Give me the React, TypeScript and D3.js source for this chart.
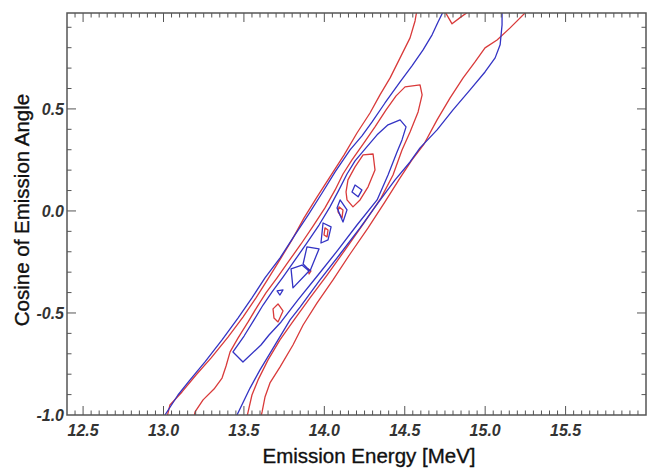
import React from "react";
import * as d3 from "d3";

type Pt = [number, number];

// Axis setup
const xDomain: [number, number] = [12.4, 16.0];
const yDomain: [number, number] = [-1.0, 0.97];
const xTickLabels = [12.5, 13.0, 13.5, 14.0, 14.5, 15.0, 15.5];
const yTickLabels = [-1.0, -0.5, 0.0, 0.5];
const xTitle = "Emission Energy [MeV]";
const yTitle = "Cosine of Emission Angle";

// ---- Blue contours (energy MeV, cosine) ----
const blueOuterLeft: Pt[] = [
  [13.009, -1.0], [13.09, -0.902], [13.165, -0.828], [13.258, -0.74], [13.364, -0.632],
  [13.463, -0.525], [13.55, -0.426], [13.631, -0.328], [13.725, -0.23], [13.805, -0.132],
  [13.899, -0.02], [13.986, 0.088], [14.067, 0.191], [14.16, 0.299], [14.234, 0.368],
  [14.297, 0.436], [14.377, 0.529], [14.471, 0.632], [14.545, 0.711], [14.614, 0.789],
  [14.67, 0.863], [14.707, 0.926], [14.744, 0.985],
];
const blueOuterRight: Pt[] = [
  [13.451, -1.01], [13.538, -0.868], [13.6, -0.779], [13.675, -0.681], [13.787, -0.534],
  [13.849, -0.471], [13.973, -0.338], [14.098, -0.211], [14.222, -0.083], [14.334, 0.039],
  [14.44, 0.152], [14.533, 0.24], [14.595, 0.309], [14.701, 0.397], [14.8, 0.495],
  [14.906, 0.593], [14.999, 0.681], [15.062, 0.75], [15.093, 0.814], [15.105, 0.912],
  [15.105, 0.985],
];
const blueInnerLoop: Pt[] = [
  [13.432, -0.691], [13.501, -0.613], [13.563, -0.534], [13.619, -0.461], [13.675, -0.397],
  [13.743, -0.324], [13.818, -0.24], [13.892, -0.157], [13.967, -0.069], [14.035, 0.02],
  [14.091, 0.103], [14.141, 0.181], [14.191, 0.245], [14.259, 0.309], [14.328, 0.373],
  [14.396, 0.422], [14.471, 0.446], [14.508, 0.412], [14.483, 0.348], [14.452, 0.289],
  [14.396, 0.176], [14.328, 0.054], [14.203, -0.069], [14.085, -0.191], [13.961, -0.314],
  [13.836, -0.436], [13.731, -0.544], [13.656, -0.608], [13.606, -0.657], [13.494, -0.74],
];
const blueSquare: Pt[] = [[14.191, 0.127], [14.234, 0.103], [14.21, 0.069], [14.172, 0.093]];
const blueDiamond1: Pt[] = [[14.098, 0.054], [14.141, 0.005], [14.116, -0.054], [14.079, 0.015]];
const blueDiamond2: Pt[] = [[13.992, -0.059], [14.042, -0.078], [14.023, -0.142], [13.979, -0.157]];
const blueQuad: Pt[] = [[13.892, -0.176], [13.967, -0.186], [13.911, -0.294], [13.868, -0.26]];
const blueTriangle: Pt[] = [[13.793, -0.284], [13.861, -0.265], [13.905, -0.294], [13.805, -0.377]];
const blueDot: Pt[] = [[13.706, -0.392], [13.743, -0.387], [13.724, -0.412]];

// ---- Red contours ----
const redOuterLeft: Pt[] = [
  [13.022, -1.01], [13.04, -0.951], [13.115, -0.887], [13.202, -0.804], [13.295, -0.721],
  [13.401, -0.618], [13.494, -0.52], [13.575, -0.426], [13.65, -0.333], [13.731, -0.23],
  [13.799, -0.142], [13.874, -0.034], [13.955, 0.069], [14.035, 0.167], [14.123, 0.275],
  [14.203, 0.382], [14.284, 0.48], [14.346, 0.569], [14.409, 0.652], [14.471, 0.75],
  [14.533, 0.848], [14.564, 0.931], [14.576, 0.985],
];
const redOuterRight: Pt[] = [
  [15.267, 0.985], [15.155, 0.897], [15.074, 0.838], [14.999, 0.799], [14.937, 0.73],
  [14.863, 0.652], [14.782, 0.554], [14.701, 0.446], [14.62, 0.328], [14.545, 0.25],
  [14.471, 0.162], [14.377, 0.044], [14.272, -0.083], [14.16, -0.211], [14.054, -0.338],
  [13.955, -0.451], [13.868, -0.559], [13.805, -0.657], [13.724, -0.765], [13.662, -0.843],
  [13.631, -0.912], [13.613, -0.985], [13.606, -1.01],
];
const redMiddle: Pt[] = [
  [13.19, -1.01], [13.196, -0.985], [13.246, -0.926], [13.314, -0.873], [13.364, -0.819],
  [13.389, -0.76], [13.414, -0.691], [13.463, -0.623], [13.526, -0.544], [13.581, -0.471],
  [13.637, -0.402], [13.706, -0.328], [13.78, -0.245], [13.855, -0.162], [13.93, -0.074],
  [14.004, 0.015], [14.067, 0.103], [14.116, 0.181], [14.172, 0.25], [14.241, 0.328],
  [14.315, 0.412], [14.384, 0.495], [14.446, 0.564], [14.502, 0.608], [14.595, 0.618],
  [14.608, 0.569], [14.583, 0.485], [14.533, 0.387], [14.483, 0.299], [14.427, 0.176],
  [14.353, 0.064], [14.247, -0.059], [14.129, -0.191], [14.017, -0.314], [13.911, -0.426],
  [13.812, -0.534], [13.724, -0.632], [13.65, -0.73], [13.588, -0.828], [13.55, -0.902],
  [13.526, -0.985], [13.519, -1.01],
];
const redTopNotch: Pt[] = [[14.744, 0.985], [14.794, 0.917], [14.85, 0.951], [14.912, 0.985]];
const redInnerLoop: Pt[] = [
  [14.241, 0.275], [14.303, 0.279], [14.315, 0.201], [14.272, 0.118], [14.222, 0.054],
  [14.178, 0.02], [14.141, 0.054], [14.135, 0.093], [14.147, 0.152], [14.191, 0.216],
];
const redSmall1: Pt[] = [[14.091, 0.02], [14.116, 0.005], [14.11, -0.034], [14.085, -0.005]];
const redSmall2: Pt[] = [[14.004, -0.083], [14.023, -0.093], [14.017, -0.127], [13.998, -0.118]];
const redSmall3: Pt[] = [[13.899, -0.284], [13.917, -0.294], [13.905, -0.309]];
const redSmall4: Pt[] = [[13.681, -0.48], [13.712, -0.456], [13.743, -0.49], [13.712, -0.544], [13.687, -0.525]];

const blueLines: { pts: Pt[]; closed: boolean }[] = [
  { pts: blueOuterLeft, closed: false },
  { pts: blueOuterRight, closed: false },
  { pts: blueInnerLoop, closed: true },
  { pts: blueSquare, closed: true },
  { pts: blueDiamond1, closed: true },
  { pts: blueDiamond2, closed: true },
  { pts: blueQuad, closed: true },
  { pts: blueTriangle, closed: true },
  { pts: blueDot, closed: true },
];
const redLines: { pts: Pt[]; closed: boolean }[] = [
  { pts: redOuterLeft, closed: false },
  { pts: redOuterRight, closed: false },
  { pts: redMiddle, closed: false },
  { pts: redTopNotch, closed: false },
  { pts: redInnerLoop, closed: true },
  { pts: redSmall1, closed: true },
  { pts: redSmall2, closed: true },
  { pts: redSmall3, closed: true },
  { pts: redSmall4, closed: true },
];

const W = 653;
const H = 469;
const L = 67, R = 646, T = 13, B = 415;

export default function App() {
  const x = d3.scaleLinear().domain(xDomain).range([L, R]);
  const y = d3.scaleLinear().domain(yDomain).range([B, T]);
  const lineOpen = d3.line<Pt>().x((d) => x(d[0])).y((d) => y(d[1]));
  const lineClosed = d3.line<Pt>().x((d) => x(d[0])).y((d) => y(d[1])).curve(d3.curveLinearClosed);

  const xMinor = d3.range(0, 73).map((i) => +(12.4 + i * 0.05).toFixed(2)).filter((v) => v > 12.4 && v < 16.0);
  const yMinor = d3.range(0, 20).map((i) => +(-1.0 + i * 0.1).toFixed(2)).filter((v) => v > -1.0 && v < 0.97);
  const isMajor = (v: number) => Math.abs(v * 2 - Math.round(v * 2)) < 1e-6;

  const axisColor = "#555";
  const red = "#d93a3a";
  const blue = "#3333c4";

  return (
    <div style={{ position: "absolute", left: 0, top: 0 }}>
      <svg width={W} height={H} style={{ display: "block", background: "#fff" }}>
        <defs>
          <clipPath id="plotClip">
            <rect x={L} y={T} width={R - L} height={B - T} />
          </clipPath>
        </defs>
        <g clipPath="url(#plotClip)" fill="none" strokeWidth={1.3} strokeLinejoin="round">
          {redLines.map((c, i) => (
            <path key={"r" + i} d={(c.closed ? lineClosed : lineOpen)(c.pts) || ""} stroke={red} />
          ))}
          {blueLines.map((c, i) => (
            <path key={"b" + i} d={(c.closed ? lineClosed : lineOpen)(c.pts) || ""} stroke={blue} />
          ))}
        </g>
        <g stroke={axisColor} strokeWidth={1}>
          {xMinor.map((v) => {
            const len = isMajor(v) ? 9 : 4.5;
            return (
              <g key={"xt" + v}>
                <line x1={x(v)} x2={x(v)} y1={B} y2={B - len} />
                <line x1={x(v)} x2={x(v)} y1={T} y2={T + len} />
              </g>
            );
          })}
          {yMinor.map((v) => {
            const len = isMajor(v) ? 9 : 4.5;
            return (
              <g key={"yt" + v}>
                <line x1={L} x2={L + len} y1={y(v)} y2={y(v)} />
                <line x1={R} x2={R - len} y1={y(v)} y2={y(v)} />
              </g>
            );
          })}
        </g>
        <rect x={L} y={T} width={R - L} height={B - T} fill="none" stroke={axisColor} strokeWidth={1.5} />
        <g fontFamily="'Liberation Sans', Arial, sans-serif" fontWeight="bold" fontStyle="italic" fontSize={16} fill="#333">
          {xTickLabels.map((v) => (
            <text key={"xl" + v} x={x(v)} y={B + 21} textAnchor="middle">
              {v.toFixed(1)}
            </text>
          ))}
          {yTickLabels.map((v) => (
            <text key={"yl" + v} x={L - 3} y={y(v) + 6} textAnchor="end">
              {v.toFixed(1)}
            </text>
          ))}
        </g>
        <g fontFamily="'Liberation Sans', Arial, sans-serif" fontSize={20.5} fill="#111" stroke="#111" strokeWidth={0.35}>
          <text x={369} y={463} textAnchor="middle">
            {xTitle}
          </text>
          <text transform={`translate(29, 210) rotate(-90)`} textAnchor="middle">
            {yTitle}
          </text>
        </g>
      </svg>
    </div>
  );
}
